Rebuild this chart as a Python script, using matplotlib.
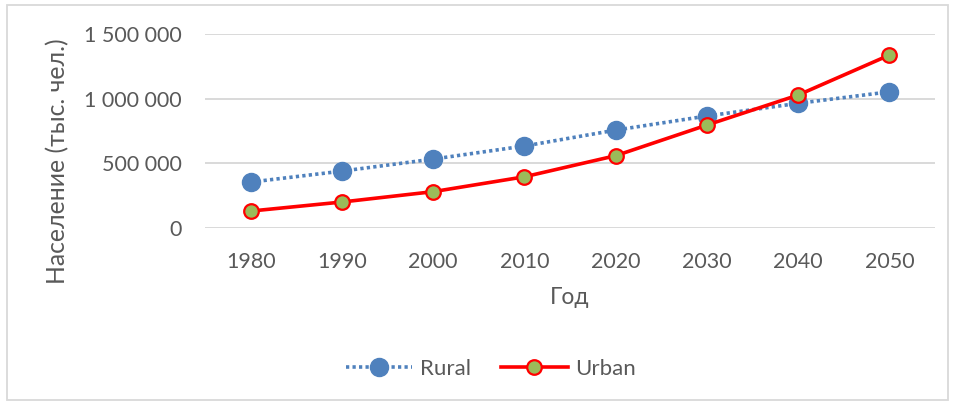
import matplotlib.pyplot as plt
from matplotlib.patches import Rectangle

plt.rcParams['font.family'] = ['Lato', 'DejaVu Sans']

years = [1980, 1990, 2000, 2010, 2020, 2030, 2040, 2050]
rural = [355000, 440000, 533000, 634000, 757000, 866000, 964000, 1053000]
urban = [131000, 201000, 281000, 396000, 559000, 796000, 1028000, 1337000]
yticks = [0, 500000, 1000000, 1500000]
ytick_labels = ['0', '500 000', '1 000 000', '1 500 000']

text_color = '#595959'
grid_color = '#d9d9d9'

fig = plt.figure(figsize=(9.55, 4.05), dpi=100)
ax = fig.add_axes([0.2147, 0.437, 0.7643, 0.479])

x = list(range(len(years)))
ax.plot(x, rural, color='#4f81bd', linestyle=(0, (0.9, 0.9)), linewidth=2.6,
        marker='o', markersize=13, markerfacecolor='#4f81bd',
        markeredgecolor='#4f81bd', label='Rural', zorder=3)
ax.plot(x, urban, color='#ff0000', linewidth=2.6,
        marker='o', markersize=10.5, markerfacecolor='#9bbb59',
        markeredgecolor='#ff0000', markeredgewidth=1.6, label='Urban', zorder=4)

ax.set_xlim(-0.5, len(years) - 0.5)
ax.set_ylim(0, 1500000)
ax.set_xticks(x)
ax.set_xticklabels([str(y) for y in years])
ax.set_yticks(yticks)
ax.set_yticklabels(ytick_labels)
ax.tick_params(length=0, labelsize=15.5, labelcolor=text_color)
ax.tick_params(axis='x', pad=17)
ax.tick_params(axis='y', pad=16.5)
ax.grid(axis='y', color=grid_color, linewidth=1.4)
ax.set_axisbelow(True)
for s in ax.spines.values():
    s.set_visible(False)

ax.set_xlabel('Год', fontsize=16.5, color=text_color, labelpad=11)
# y title sits a bit lower than the plot centre, as in the original
fig.text(0.0607, 0.6025, 'Население (тыс. чел.)', fontsize=17.8, color=text_color,
         rotation=90, ha='center', va='center')

leg = fig.legend(loc='center', bbox_to_anchor=(0.514, 0.09), ncol=2, frameon=False,
                 fontsize=16, handlelength=3.0, columnspacing=1.35, handletextpad=0.35)
for t in leg.get_texts():
    t.set_color(text_color)

fig.patches.append(Rectangle((0.007, 0.012), 0.986, 0.976, transform=fig.transFigure,
                             fill=False, edgecolor='#d9d9d9', linewidth=1.3))

fig.savefig('out.png', dpi=100)
